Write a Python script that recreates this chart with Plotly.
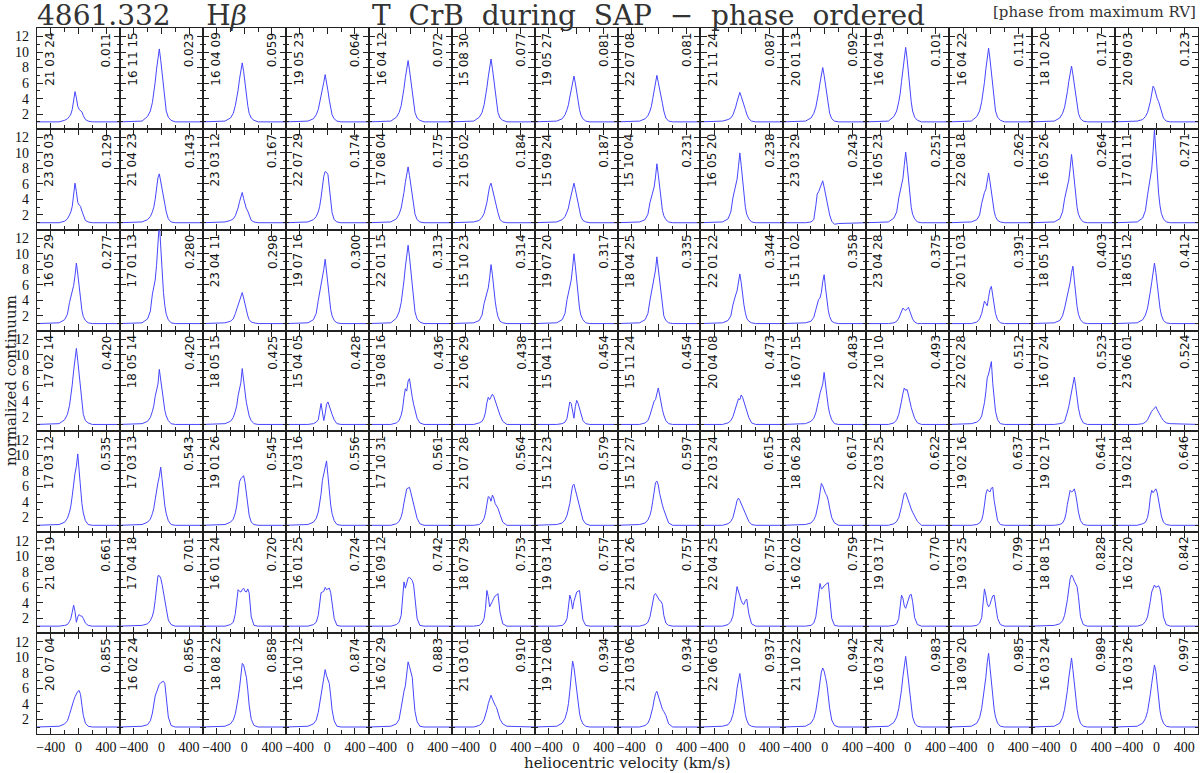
import plotly.graph_objects as go
from plotly.subplots import make_subplots

# velocity grid (km/s) shared by all profiles
vel = [-600, -280, -200, -160, -130, -110, -90, -70, -50, -30, -10, 10, 30, 50, 70, 100, 140, 200, 600]

dates = [
    '21 03 24', '16 11 15', '16 04 09', '19 05 23', '16 04 12', '15 08 30', '19 05 27',
    '22 07 08', '21 11 24', '20 01 13', '16 04 19', '16 04 22', '18 10 20', '20 09 03',
    '23 03 03', '21 04 23', '23 03 12', '22 07 29', '17 08 04', '21 05 02', '15 09 24',
    '15 10 04', '16 05 20', '23 03 29', '16 05 23', '22 08 18', '16 05 26', '17 01 11',
    '16 05 29', '17 01 13', '23 04 11', '19 07 16', '22 01 15', '15 10 23', '19 07 20',
    '18 04 25', '22 01 22', '15 11 02', '23 04 28', '20 11 03', '18 05 10', '18 05 12',
    '17 02 14', '18 05 14', '18 05 15', '15 04 05', '19 08 16', '21 06 29', '15 04 11',
    '15 11 24', '20 04 08', '16 07 15', '22 10 10', '22 02 28', '16 07 24', '23 06 01',
    '17 03 12', '17 03 13', '19 01 26', '17 03 16', '17 10 31', '21 07 28', '15 12 23',
    '15 12 27', '22 03 24', '18 06 28', '22 03 25', '19 02 16', '19 02 17', '19 02 18',
    '21 08 19', '17 04 18', '16 01 24', '16 01 25', '16 09 12', '18 07 29', '19 03 14',
    '21 01 26', '22 04 25', '16 02 02', '19 03 17', '19 03 25', '18 08 15', '16 02 20',
    '20 07 04', '16 02 24', '18 08 22', '16 10 12', '16 02 29', '21 03 01', '19 12 08',
    '21 03 06', '22 06 05', '21 10 22', '16 03 24', '18 09 20', '16 03 24', '16 03 26',
]

phases = [
    0.011, 0.023, 0.059, 0.064, 0.072, 0.077, 0.081, 0.081, 0.087, 0.092, 0.101, 0.111, 0.117, 0.123,
    0.129, 0.143, 0.167, 0.174, 0.175, 0.184, 0.187, 0.231, 0.238, 0.243, 0.251, 0.262, 0.264, 0.271,
    0.277, 0.280, 0.298, 0.300, 0.313, 0.314, 0.317, 0.335, 0.344, 0.358, 0.375, 0.391, 0.403, 0.412,
    0.420, 0.420, 0.425, 0.428, 0.436, 0.438, 0.454, 0.454, 0.473, 0.483, 0.493, 0.512, 0.523, 0.524,
    0.535, 0.543, 0.545, 0.556, 0.561, 0.564, 0.579, 0.597, 0.615, 0.617, 0.622, 0.637, 0.641, 0.646,
    0.661, 0.701, 0.720, 0.724, 0.742, 0.753, 0.757, 0.757, 0.757, 0.759, 0.770, 0.799, 0.828, 0.842,
    0.855, 0.856, 0.858, 0.874, 0.883, 0.910, 0.934, 0.934, 0.937, 0.942, 0.983, 0.985, 0.989, 0.997,
]

# normalized flux, one row of panels per list
flux_r1 = [
    [1, 1.0, 1.2, 1.4, 1.7, 2.0, 2.6, 3.8, 4.9, 4.1, 3.0, 2.6, 2.5, 2.3, 1.8, 1.3, 1.1, 1, 1],
    [1, 1.1, 1.7, 2.4, 3.5, 4.6, 6.1, 7.8, 9.5, 10.4, 9.0, 7.1, 5.2, 3.5, 2.4, 1.6, 1.2, 1, 1],
    [1, 1.1, 1.5, 2.1, 3.1, 3.9, 5.1, 6.5, 7.8, 8.6, 7.5, 5.9, 4.4, 3.1, 2.1, 1.5, 1.2, 1, 1],
    [1, 1.1, 1.4, 1.9, 2.6, 3.4, 4.5, 5.4, 6.1, 7.1, 6.2, 5.0, 3.8, 2.7, 1.9, 1.4, 1.1, 1, 1],
    [1, 1.1, 1.6, 2.2, 3.1, 4.0, 5.3, 6.7, 8.1, 8.9, 7.7, 6.1, 4.6, 3.1, 2.2, 1.5, 1.2, 1, 1],
    [1, 1.1, 1.6, 2.2, 3.2, 4.1, 5.4, 6.8, 8.3, 9.1, 7.9, 6.3, 4.6, 3.2, 2.2, 1.5, 1.2, 1, 1],
    [1, 1.1, 1.4, 1.9, 2.6, 3.2, 4.2, 5.2, 6.2, 6.9, 6.0, 4.8, 3.7, 2.6, 1.9, 1.4, 1.1, 1, 1],
    [1, 1.1, 1.4, 1.8, 2.4, 3.0, 4.0, 5.2, 6.4, 7.0, 6.1, 5.0, 4.3, 3.4, 2.4, 1.5, 1.1, 1, 1],
    [1, 1.1, 1.3, 1.5, 1.9, 2.3, 2.9, 3.6, 4.3, 4.8, 4.3, 3.6, 3.1, 2.6, 2.0, 1.4, 1.1, 1, 1],
    [1, 1.1, 1.5, 2.1, 2.9, 3.7, 4.8, 6.0, 7.3, 8.0, 7.0, 5.6, 4.2, 2.9, 2.1, 1.4, 1.1, 1, 1],
    [1, 1.1, 1.7, 2.4, 3.6, 4.6, 6.2, 7.9, 9.6, 10.6, 9.2, 7.2, 5.3, 3.6, 2.4, 1.6, 1.2, 1, 1],
    [1, 1.1, 1.7, 2.4, 3.6, 4.6, 6.1, 7.8, 9.6, 10.5, 9.1, 7.2, 5.3, 3.6, 2.4, 1.6, 1.2, 1, 1],
    [1, 1.1, 1.5, 2.1, 2.9, 3.7, 4.9, 6.2, 7.5, 8.2, 7.1, 5.7, 4.2, 2.9, 2.1, 1.4, 1.1, 1, 1],
    [1, 1.1, 1.3, 1.7, 2.2, 2.8, 3.6, 4.6, 5.6, 5.3, 4.6, 4.0, 3.6, 3.0, 2.2, 1.5, 1.1, 1, 1],
]
flux_r2 = [
    [1, 1.0, 1.2, 1.5, 2.0, 2.4, 3.1, 4.5, 6.1, 5.0, 3.6, 3.3, 3.1, 2.5, 1.9, 1.3, 1.1, 1, 1],
    [1, 1.1, 1.4, 1.8, 2.4, 3.0, 4.0, 5.3, 6.8, 7.3, 6.2, 5.0, 4.3, 3.4, 2.4, 1.5, 1.1, 1, 1],
    [1, 1.1, 1.3, 1.5, 1.9, 2.3, 2.9, 3.7, 4.5, 4.9, 4.1, 3.3, 2.8, 2.5, 1.9, 1.3, 1.1, 1, 1],
    [1, 1.1, 1.4, 1.8, 2.4, 3.1, 4.2, 5.6, 7.0, 7.6, 7.5, 7.2, 5.6, 3.6, 2.3, 1.4, 1.1, 1, 1],
    [1, 1.1, 1.5, 2.1, 2.9, 3.7, 4.9, 6.2, 7.5, 8.2, 7.1, 5.7, 4.2, 2.9, 2.1, 1.4, 1.1, 1, 1],
    [1, 1.1, 1.3, 1.7, 2.2, 2.8, 3.6, 4.7, 5.7, 6.1, 5.3, 4.6, 4.0, 3.3, 2.3, 1.4, 1.1, 1, 1],
    [1, 1.1, 1.4, 1.8, 2.4, 2.9, 3.8, 4.7, 5.6, 6.1, 5.3, 4.3, 3.3, 2.4, 1.8, 1.3, 1.1, 1, 1],
    [1, 1.1, 1.4, 2.1, 3.6, 4.3, 4.8, 5.6, 6.9, 8.6, 7.2, 5.4, 3.9, 2.6, 1.9, 1.4, 1.1, 1, 1],
    [1, 1.1, 1.5, 2.4, 4.2, 5.1, 5.7, 6.6, 8.2, 10.0, 8.4, 6.2, 4.4, 3.0, 2.1, 1.5, 1.1, 1, 1],
    [1, 1.0, 1.1, 1.4, 3.2, 4.7, 5.0, 5.4, 6.0, 6.4, 5.6, 4.6, 3.6, 2.8, 2.0, 1.2, 0.8, 0.9, 1],
    [1, 1.1, 1.6, 2.4, 4.2, 5.1, 5.8, 6.7, 8.4, 10.1, 8.5, 6.3, 4.5, 3.0, 2.1, 1.5, 1.1, 1, 1],
    [1, 1.1, 1.4, 2.0, 3.5, 4.4, 4.9, 5.3, 6.2, 7.4, 6.3, 4.8, 3.5, 2.5, 1.8, 1.3, 1.1, 1, 1],
    [1, 1.1, 1.5, 2.4, 4.1, 5.0, 5.6, 6.5, 8.0, 9.8, 8.2, 6.1, 4.3, 3.0, 2.1, 1.5, 1.1, 1, 1],
    [1, 1.1, 1.6, 2.6, 4.6, 5.6, 6.4, 7.9, 10.2, 13.0, 10.3, 7.2, 4.8, 3.2, 2.2, 1.5, 1.1, 1, 1],
]
flux_r3 = [
    [1, 1.1, 1.5, 2.2, 3.7, 4.5, 5.0, 5.9, 7.2, 8.8, 7.4, 5.6, 4.0, 2.7, 1.9, 1.4, 1.1, 1, 1],
    [1, 1.1, 1.6, 2.6, 4.8, 6.0, 6.6, 8.5, 11.5, 14.0, 11.0, 7.5, 5.0, 3.3, 2.2, 1.5, 1.1, 1, 1],
    [1, 1.1, 1.3, 1.6, 2.3, 2.9, 3.4, 3.8, 4.5, 5.0, 4.3, 3.4, 2.6, 2.0, 1.5, 1.2, 1.1, 1, 1],
    [1, 1.1, 1.5, 2.3, 4.0, 5.0, 5.8, 6.7, 8.0, 9.3, 7.8, 5.8, 4.1, 2.8, 2.0, 1.4, 1.1, 1, 1],
    [1, 1.1, 1.7, 2.5, 3.7, 4.8, 6.5, 8.3, 10.1, 11.1, 9.6, 7.6, 5.5, 3.7, 2.5, 1.6, 1.2, 1, 1],
    [1, 1.1, 1.4, 2.1, 3.6, 4.4, 4.9, 5.6, 6.9, 8.6, 7.3, 5.4, 3.9, 2.7, 1.9, 1.3, 1.1, 1, 1],
    [1, 1.1, 1.5, 2.3, 4.1, 5.0, 5.6, 6.6, 8.2, 10.0, 8.4, 6.2, 4.4, 3.0, 2.1, 1.5, 1.1, 1, 1],
    [1, 1.1, 1.5, 2.3, 4.0, 5.0, 5.7, 6.5, 7.9, 9.6, 8.1, 6.0, 4.3, 2.9, 2.0, 1.4, 1.1, 1, 1],
    [1, 1.1, 1.4, 2.0, 3.4, 4.2, 4.7, 5.2, 6.1, 7.4, 6.3, 4.7, 3.4, 2.4, 1.7, 1.3, 1.1, 1, 1],
    [1, 1.1, 1.3, 1.8, 2.8, 3.6, 4.1, 4.3, 5.0, 6.4, 7.3, 5.6, 3.9, 2.7, 1.9, 1.3, 1.1, 1, 1],
    [1, 1.0, 1.1, 1.3, 1.7, 2.2, 2.7, 3.0, 2.8, 2.7, 2.9, 3.1, 2.6, 2.0, 1.6, 1.2, 1.0, 1, 1],
    [1, 1.0, 1.2, 1.6, 2.3, 3.0, 3.9, 3.6, 3.3, 4.4, 5.4, 5.8, 4.4, 3.2, 2.3, 1.5, 1.1, 1, 1],
    [1, 1.1, 1.4, 2.0, 3.0, 3.8, 4.8, 5.4, 6.3, 7.6, 8.4, 6.6, 4.6, 3.2, 2.2, 1.5, 1.1, 1, 1],
    [1, 1.1, 1.5, 2.1, 3.0, 3.9, 5.1, 6.3, 7.8, 8.8, 7.6, 5.8, 4.3, 3.0, 2.1, 1.4, 1.1, 1, 1],
]
flux_r4 = [
    [1, 1.1, 1.6, 2.3, 3.4, 4.5, 6.1, 7.9, 9.7, 10.8, 9.2, 7.2, 5.3, 3.5, 2.3, 1.5, 1.2, 1, 1],
    [1, 1.1, 1.4, 1.9, 2.7, 3.4, 4.6, 5.5, 6.2, 8.1, 6.8, 5.1, 3.8, 2.8, 2.1, 1.5, 1.1, 1, 1],
    [1, 1.1, 1.4, 1.9, 2.7, 3.4, 4.7, 5.6, 6.4, 8.2, 7.0, 5.2, 3.8, 2.8, 2.1, 1.5, 1.1, 1, 1],
    [1, 1.0, 1.1, 1.3, 1.6, 2.5, 3.7, 2.6, 1.5, 2.4, 3.6, 3.9, 3.3, 2.8, 2.3, 1.6, 1.1, 1, 1],
    [1, 1.0, 1.2, 1.5, 2.2, 3.0, 4.5, 5.6, 5.3, 6.6, 6.9, 5.5, 4.5, 3.6, 2.8, 1.8, 1.2, 1, 1],
    [1, 1.0, 1.2, 1.4, 1.9, 2.6, 3.8, 4.5, 4.2, 4.5, 4.9, 4.6, 4.0, 3.5, 3.1, 2.2, 1.4, 1, 1],
    [1, 1.0, 1.1, 1.3, 1.8, 2.8, 3.9, 3.7, 2.4, 1.8, 3.3, 4.1, 3.7, 3.0, 2.3, 1.5, 1.1, 1, 1],
    [1, 1.0, 1.2, 1.5, 2.2, 2.8, 3.5, 4.0, 4.2, 4.9, 5.7, 4.8, 3.7, 2.9, 2.2, 1.5, 1.1, 1, 1],
    [1, 1.0, 1.2, 1.5, 2.0, 2.6, 3.4, 4.0, 4.3, 4.2, 4.8, 4.5, 3.9, 3.4, 2.8, 1.9, 1.2, 1, 1],
    [1, 1.1, 1.4, 1.8, 2.5, 3.2, 4.1, 5.0, 5.5, 6.2, 7.7, 6.5, 4.7, 3.3, 2.4, 1.6, 1.1, 1, 1],
    [1, 1.0, 1.2, 1.6, 2.3, 3.0, 4.0, 5.0, 5.7, 5.4, 5.5, 4.8, 3.9, 3.2, 2.6, 1.8, 1.2, 1, 1],
    [1, 1.1, 1.3, 1.6, 2.1, 2.8, 3.8, 5.2, 7.0, 7.5, 8.3, 9.1, 6.3, 4.0, 2.7, 1.6, 1.1, 1, 1],
    [1, 1.0, 1.1, 1.2, 1.4, 1.9, 2.6, 3.3, 4.3, 5.4, 6.5, 7.1, 5.9, 4.4, 3.1, 1.9, 1.2, 1, 1],
    [1, 1.0, 1.1, 1.3, 1.6, 2.0, 2.4, 2.7, 2.9, 3.1, 3.3, 2.9, 2.5, 2.2, 1.9, 1.5, 1.2, 1.1, 1],
]
flux_r5 = [
    [1, 1.1, 1.4, 1.9, 2.7, 3.5, 4.8, 6.7, 7.7, 8.6, 10.2, 8.0, 5.6, 3.8, 2.6, 1.6, 1.1, 1, 1],
    [1, 1.1, 1.4, 1.8, 2.5, 3.2, 4.3, 5.8, 6.5, 7.3, 8.5, 6.9, 5.0, 3.5, 2.5, 1.6, 1.1, 1, 1],
    [1, 1.1, 1.4, 1.8, 2.6, 3.5, 5.0, 6.6, 7.0, 7.2, 7.4, 6.5, 4.9, 3.4, 2.3, 1.4, 1.1, 1, 1],
    [1, 1.1, 1.4, 1.9, 2.7, 3.6, 5.0, 6.8, 7.6, 8.3, 9.3, 7.4, 5.3, 3.6, 2.5, 1.6, 1.1, 1, 1],
    [1, 1.0, 1.2, 1.5, 2.1, 2.8, 3.9, 5.0, 5.7, 5.8, 5.9, 5.2, 4.4, 3.8, 3.0, 1.9, 1.2, 1, 1],
    [1, 1.0, 1.1, 1.4, 1.9, 2.6, 3.7, 4.7, 4.6, 4.1, 4.9, 4.5, 3.8, 3.5, 3.2, 2.4, 1.4, 1, 1],
    [1, 1.1, 1.3, 1.7, 2.3, 2.9, 3.8, 5.0, 6.1, 6.3, 5.6, 4.8, 4.1, 3.4, 2.6, 1.7, 1.2, 1, 1],
    [1, 1.1, 1.3, 1.7, 2.3, 3.0, 4.1, 5.4, 6.5, 6.7, 6.2, 5.1, 4.2, 3.6, 3.0, 2.2, 1.3, 1, 1],
    [1, 1.0, 1.2, 1.5, 2.0, 2.6, 3.4, 4.2, 4.5, 4.2, 3.8, 3.4, 3.0, 2.6, 2.2, 1.5, 1.1, 1, 1],
    [1, 1.1, 1.3, 1.7, 2.3, 3.0, 4.0, 5.2, 6.4, 6.1, 5.5, 5.1, 4.8, 4.2, 3.2, 2.0, 1.3, 1, 1],
    [1, 1.0, 1.2, 1.5, 2.0, 2.6, 3.4, 4.3, 5.1, 5.2, 4.6, 4.0, 3.5, 3.1, 2.7, 2.2, 1.5, 1.0, 1],
    [1, 1.0, 1.1, 1.3, 1.7, 2.4, 3.6, 5.0, 5.6, 5.5, 5.3, 5.8, 5.9, 4.2, 2.9, 1.6, 1.1, 1, 1],
    [1, 1.0, 1.1, 1.3, 1.8, 2.5, 3.7, 4.9, 5.5, 5.3, 5.4, 5.7, 5.0, 3.9, 2.7, 1.6, 1.1, 1, 1],
    [1, 1.0, 1.2, 1.4, 2.0, 3.0, 4.6, 5.5, 5.2, 5.5, 5.7, 5.2, 4.3, 3.1, 2.2, 1.4, 1.1, 1, 1],
]
flux_r6 = [
    [1, 1.0, 1.1, 1.2, 1.6, 2.0, 2.8, 3.7, 2.9, 1.5, 2.2, 2.5, 2.3, 2.3, 2.0, 1.4, 1.1, 1, 1],
    [1, 1.1, 1.3, 1.7, 2.3, 3.0, 4.3, 6.0, 7.5, 7.5, 7.2, 6.4, 5.5, 4.6, 3.3, 1.8, 1.2, 1, 1],
    [1, 1.0, 1.2, 1.5, 2.6, 4.5, 5.7, 5.5, 5.4, 5.7, 5.9, 5.5, 5.4, 5.8, 5.3, 2.2, 1.1, 1, 1],
    [1, 1.0, 1.2, 1.5, 2.4, 4.0, 5.3, 5.4, 5.5, 6.0, 5.7, 5.8, 5.9, 5.3, 4.0, 2.0, 1.1, 1, 1],
    [1, 1.0, 1.2, 1.5, 2.4, 4.4, 6.7, 5.9, 6.6, 7.2, 7.3, 7.1, 6.9, 6.3, 4.8, 2.0, 1.1, 1, 1],
    [1, 1.0, 1.1, 1.4, 2.0, 3.3, 5.6, 4.8, 3.5, 3.8, 4.2, 4.6, 4.9, 5.0, 5.2, 2.8, 1.3, 1, 1],
    [1, 1.0, 1.1, 1.4, 2.0, 3.3, 5.0, 4.4, 3.2, 4.2, 5.0, 5.4, 5.5, 5.6, 4.0, 1.8, 1.1, 1, 1],
    [1, 1.0, 1.2, 1.5, 2.2, 3.0, 4.2, 5.0, 5.2, 4.9, 4.6, 4.3, 4.2, 3.8, 2.4, 1.4, 1.1, 1, 1],
    [1, 1.0, 1.2, 1.6, 2.3, 3.3, 4.8, 6.1, 5.6, 4.9, 4.3, 3.9, 3.8, 4.3, 4.5, 2.6, 1.3, 1, 1],
    [1, 1.0, 1.1, 1.4, 2.2, 3.6, 5.6, 6.5, 5.8, 5.9, 6.2, 6.4, 6.5, 6.6, 5.0, 2.0, 1.1, 1, 1],
    [1, 1.0, 1.1, 1.3, 2.0, 3.4, 5.0, 4.6, 3.6, 3.3, 3.9, 4.6, 5.0, 5.1, 4.2, 2.1, 1.2, 1, 1],
    [1, 1.0, 1.1, 1.4, 2.1, 3.6, 5.8, 5.0, 3.9, 3.5, 3.8, 4.4, 4.9, 5.0, 3.9, 2.0, 1.2, 1, 1],
    [1, 1.1, 1.3, 1.7, 2.4, 3.2, 4.4, 5.8, 7.1, 7.6, 7.3, 6.8, 6.5, 6.1, 4.8, 2.2, 1.2, 1, 1],
    [1, 1.0, 1.2, 1.6, 2.2, 3.0, 4.2, 5.4, 6.0, 6.3, 6.0, 6.1, 6.2, 5.8, 4.8, 2.2, 1.2, 1, 1],
]
flux_r7 = [
    [1, 1.1, 1.4, 1.8, 2.6, 3.3, 3.9, 4.4, 4.9, 5.3, 5.6, 5.7, 5.2, 3.8, 2.5, 1.5, 1.1, 1, 1],
    [1, 1.1, 1.3, 1.8, 2.8, 4.0, 5.0, 5.5, 6.0, 6.5, 6.7, 6.8, 6.9, 6.6, 5.0, 2.3, 1.2, 1, 1],
    [1, 1.1, 1.4, 1.9, 2.7, 3.5, 4.7, 6.0, 7.6, 9.2, 9.0, 8.0, 7.4, 5.8, 3.8, 2.0, 1.2, 1, 1],
    [1, 1.1, 1.4, 1.9, 2.9, 3.9, 5.0, 6.0, 7.2, 8.4, 7.6, 7.0, 6.6, 5.0, 3.2, 1.8, 1.1, 1, 1],
    [1, 1.1, 1.4, 2.0, 3.5, 4.8, 5.6, 6.3, 7.8, 9.4, 8.8, 8.1, 7.4, 5.0, 3.0, 1.7, 1.1, 1, 1],
    [1, 1.0, 1.2, 1.5, 2.0, 2.5, 3.2, 4.0, 4.7, 5.1, 4.6, 4.1, 3.8, 3.5, 2.9, 2.0, 1.4, 1.1, 1],
    [1, 1.1, 1.5, 2.1, 3.0, 4.0, 5.6, 7.8, 9.5, 8.7, 7.2, 5.5, 4.0, 2.8, 2.0, 1.4, 1.1, 1, 1],
    [1, 1.0, 1.2, 1.5, 2.1, 2.7, 3.5, 4.5, 5.3, 5.6, 5.0, 4.3, 3.7, 3.3, 3.0, 2.5, 1.4, 1.0, 1],
    [1, 1.1, 1.3, 1.8, 2.6, 3.4, 4.5, 6.0, 7.1, 7.9, 6.6, 5.0, 3.6, 2.6, 1.9, 1.3, 1.1, 1, 1],
    [1, 1.1, 1.5, 2.1, 3.1, 4.1, 5.4, 6.8, 8.1, 8.6, 8.2, 7.4, 6.5, 5.0, 3.4, 1.9, 1.2, 1, 1],
    [1, 1.1, 1.6, 2.3, 3.4, 4.4, 5.8, 7.5, 9.1, 10.1, 8.6, 6.8, 5.0, 3.4, 2.3, 1.5, 1.1, 1, 1],
    [1, 1.1, 1.5, 2.2, 3.4, 4.6, 5.9, 7.4, 9.3, 10.5, 8.7, 6.6, 4.8, 3.3, 2.3, 1.5, 1.1, 1, 1],
    [1, 1.1, 1.5, 2.2, 3.3, 4.3, 5.7, 7.3, 9.0, 9.9, 8.4, 6.6, 4.9, 3.3, 2.3, 1.5, 1.1, 1, 1],
    [1, 1.1, 1.5, 2.1, 3.0, 3.9, 5.2, 6.6, 8.2, 9.0, 8.2, 6.3, 4.6, 3.1, 2.2, 1.5, 1.1, 1, 1],
]

flux = flux_r1 + flux_r2 + flux_r3 + flux_r4 + flux_r5 + flux_r6 + flux_r7

nrows, ncols = 7, 14
W, H = 1200, 773
ml, mr, mt, mb = 37, 2, 28, 39
pw, ph = W - ml - mr, H - mt - mb

fig = make_subplots(rows=nrows, cols=ncols, horizontal_spacing=0, vertical_spacing=0)

for k, f in enumerate(flux):
    r, c = divmod(k, ncols)
    fig.add_trace(go.Scatter(x=vel, y=f, mode='lines', line=dict(color='#4646ff', width=1),
                             showlegend=False, hoverinfo='skip'), row=r + 1, col=c + 1)

axcol = '#222222'
tickfont = dict(family='Liberation Serif', size=14, color='#111111')
fig.update_xaxes(range=[-600, 600], tickvals=[-400, 0, 400], ticktext=['\u2212400', '0', '400'],
                 ticks='inside', ticklen=6, tickwidth=1, tickcolor=axcol,
                 minor=dict(tickvals=[-200, 200], ticks='inside', ticklen=4, tickcolor=axcol, showgrid=False),
                 showline=True, linecolor=axcol, linewidth=1.2, mirror='ticks',
                 showgrid=False, zeroline=False, showticklabels=False, tickfont=tickfont)
fig.update_xaxes(showticklabels=True, row=nrows)
fig.update_yaxes(range=[0.1, 13.1], tickvals=[2, 4, 6, 8, 10, 12],
                 ticks='inside', ticklen=6, tickwidth=1, tickcolor=axcol,
                 minor=dict(tickvals=[1, 3, 5, 7, 9, 11, 13], ticks='inside', ticklen=3, tickcolor=axcol, showgrid=False),
                 showline=True, linecolor=axcol, linewidth=1.2, mirror='ticks',
                 showgrid=False, zeroline=False, showticklabels=False, tickfont=tickfont)
fig.update_yaxes(showticklabels=True, ticklabelstandoff=4, col=1)

labfont = dict(family='DejaVu Sans', size=12, color='#111111')
ann = []
for k in range(len(flux)):
    r, c = divmod(k, ncols)
    x0 = c / ncols
    x1 = (c + 1) / ncols
    ytop = 1 - r / nrows - 3 / ph
    ann.append(dict(x=x0 + 12.3 / pw, y=ytop, xref='paper', yref='paper', text=dates[k],
                    textangle=-90, xanchor='center', yanchor='top', showarrow=False, font=labfont))
    ann.append(dict(x=x1 - 13.5 / pw, y=ytop, xref='paper', yref='paper', text=f'{phases[k]:.3f}',
                    textangle=-90, xanchor='center', yanchor='top', showarrow=False, font=labfont))

sp = '\u00a0\u00a0'
ann.append(dict(x=-1 / pw, y=1 + 12 / ph, xref='paper', yref='paper', xanchor='left', yanchor='middle',
                text='4861.332\u00a0\u00a0\u00a0\u00a0H<i>\u03b2</i>', showarrow=False, borderpad=0,
                font=dict(family='DejaVu Serif', size=28, color='#333333')))
ann.append(dict(x=(648 - ml) / pw, y=1 + 12 / ph, xref='paper', yref='paper', xanchor='center', yanchor='middle',
                text=sp.join(['T', 'CrB', 'during', 'SAP', '\u2212', 'phase', 'ordered']), showarrow=False,
                borderpad=0, font=dict(family='DejaVu Serif', size=28, color='#333333')))
ann.append(dict(x=1, y=1 + 16 / ph, xref='paper', yref='paper', xanchor='right', yanchor='middle',
                text='[phase from maximum RV]', showarrow=False,
                font=dict(family='DejaVu Serif', size=15, color='#333333')))
ann.append(dict(x=(11 - ml) / pw, y=0.5, xref='paper', yref='paper', xanchor='center', yanchor='middle',
                text='normalized continuum', textangle=-90, showarrow=False,
                font=dict(family='DejaVu Serif', size=15, color='#222222')))
ann.append(dict(x=(627 - ml) / pw, y=-(763 - (H - mb)) / ph, xref='paper', yref='paper',
                xanchor='center', yanchor='middle', text='heliocentric velocity (km/s)', showarrow=False,
                font=dict(family='DejaVu Serif', size=15, color='#222222')))

fig.update_layout(width=W, height=H, margin=dict(l=ml, r=mr, t=mt, b=mb),
                  paper_bgcolor='white', plot_bgcolor='white', annotations=ann)

# drop the default page margin so the 1200x773 figure fills the window
fig.write_html('out.html', config={'displayModeBar': False},
               post_script="document.body.style.margin='0';document.body.style.overflow='hidden';")
